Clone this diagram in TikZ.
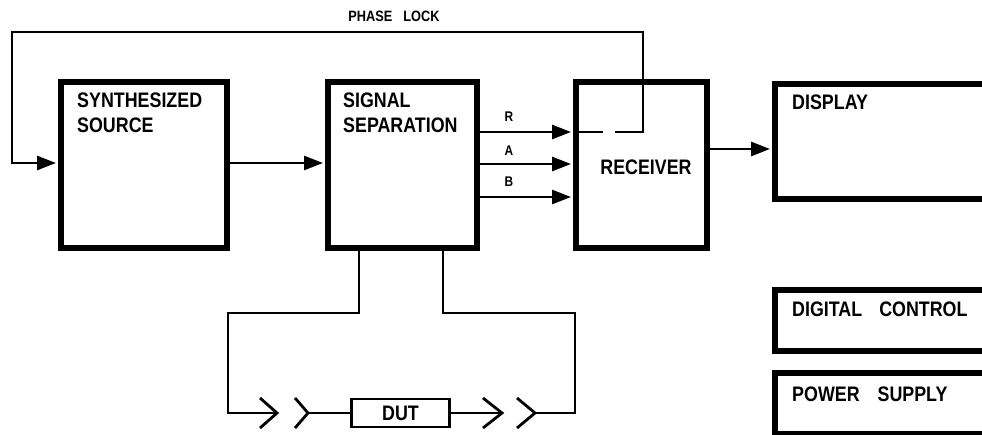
\documentclass[tikz,border=0pt]{standalone}
\usepackage{fontspec}
\setmainfont{Liberation Sans}
\newfontfamily\cf[FakeStretch=0.85]{Liberation Sans}
\usetikzlibrary{arrows.meta}
\begin{document}
\begin{tikzpicture}[x=1pt,y=-1pt,
  box/.style={draw, line width=6pt, inner sep=0pt, rectangle},
  conn/.style={line width=2.8pt},
  arr/.style={conn, -{Triangle[length=19pt,width=14pt]}, shorten >=2pt},
  lbl/.style={font=\cf\bfseries\fontsize{21}{25}\selectfont, inner sep=0pt, align=left, anchor=north west},
  small/.style={font=\cf\bfseries\fontsize{14}{16}\selectfont, inner sep=0pt}]
\useasboundingbox (0,0) rectangle (982,435);
\clip (0,0) rectangle (982,435);

% boxes
\node[box, minimum width=166pt, minimum height=166pt] (src) at (144,165) {};
\node[box, minimum width=149pt, minimum height=166pt] (ss) at (402.5,165) {};
\node[box, minimum width=131pt, minimum height=166pt] (rcv) at (641.5,165) {};
\node[box, minimum width=240pt, minimum height=115pt] (disp) at (895,141.5) {};
\node[box, minimum width=240pt, minimum height=61pt] (dig) at (895,320.5) {};
\node[box, minimum width=240pt, minimum height=61pt] (pwr) at (895,403.5) {};
\node[draw, line width=2.5pt, minimum width=98pt, minimum height=28pt, inner sep=0pt,
      font=\cf\bfseries\fontsize{21}{23}\selectfont] (dut) at (400.5,413) {DUT};

% box texts
\node[lbl] (tsrc) at (77,93) {SYNTHESIZED\\SOURCE};
\node[lbl] (tss) at (343,93) {SIGNAL\\SEPARATION};
\node[lbl, anchor=center] (trcv) at (646,167.5) {RECEIVER};
\node[lbl] (tdisp) at (792,95) {DISPLAY};
\node[lbl] (tdig) at (792,302) {DIGITAL\hspace{17pt}CONTROL};
\node[lbl] (tpwr) at (792,387) {POWER\hspace{18pt}SUPPLY};

% small labels
\node[small, font=\cf\bfseries\fontsize{15}{17}\selectfont] (tpl) at (394,16) {PHASE\hspace{11pt}LOCK};
\node[small] (tR) at (509,117) {R};
\node[small] (tA) at (509,151) {A};
\node[small] (tB) at (509,182) {B};

% helper coordinates
\coordinate (yS) at (0,163);
\coordinate (yR) at (0,132);
\coordinate (yA) at (0,164);
\coordinate (yB) at (0,197);
\coordinate (yD) at (0,149);
\coordinate (rIn) at (603,132);
\coordinate (pl) at (615,132);
\coordinate (xL) at (359,0);
\coordinate (xR) at (443,0);
\coordinate (k1) at (277,413);
\coordinate (k2) at (308,413);
\coordinate (k3) at (502,413);
\coordinate (k4) at (535,413);

% main connectors
\draw[arr] (src.east |- yS) -- (ss.west |- yS);
\draw[arr] (ss.east |- yR) -- (rcv.west |- yR);
\draw[arr] (ss.east |- yA) -- (rcv.west |- yA);
\draw[arr] (ss.east |- yB) -- (rcv.west |- yB);
\draw[conn] (rcv.west |- yR) -- (rIn);
\draw[arr] (pl) -- (643,132) -- (643,32) -- (12,32) -- (12,163) -- (src.west |- yS);
\draw[arr] (rcv.east |- yD) -- (disp.west |- yD);

% DUT loop
\draw[conn] (ss.south -| xL) -- (359,313) -- (228,313) -- (228,413) -- (k1);
\draw[conn] (260,398) -- (k1) -- (260,428);
\draw[conn] (295,398) -- (k2) -- (295,428);
\draw[conn] (k2) -- (dut.west);
\draw[conn] (dut.east) -- (k3);
\draw[conn] (483,398) -- (k3) -- (483,428);
\draw[conn] (517,398) -- (k4) -- (517,428);
\draw[conn] (k4) -- (575,413) -- (575,313) -- (443,313) -- (ss.south -| xR);
\end{tikzpicture}
\end{document}
